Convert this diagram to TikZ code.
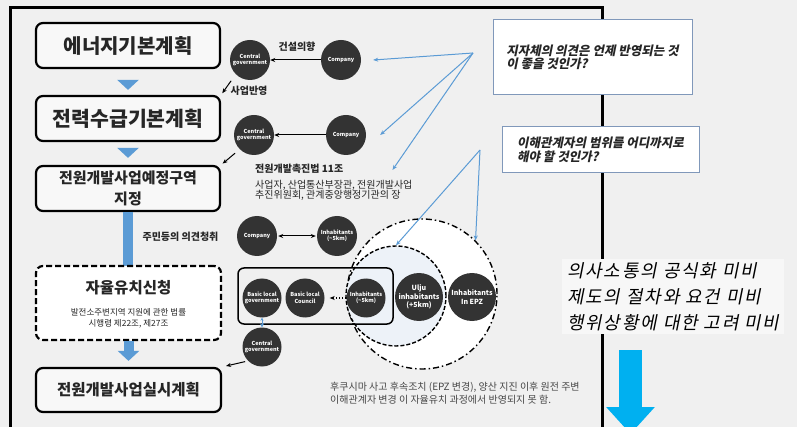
\documentclass[tikz,border=0pt]{standalone}
\usepackage{fontspec}
\setmainfont{Noto Sans CJK KR}
\newfontfamily\krit[FakeSlant=0.2]{Noto Sans CJK KR}
\newfontfamily\krbig[FakeSlant=0.2,LetterSpace=10]{Noto Sans CJK KR}
\usetikzlibrary{arrows.meta}
\definecolor{bgc}{HTML}{F0F0F0}
\definecolor{circ}{HTML}{333333}
\definecolor{lblue}{HTML}{5B9BD5}
\definecolor{barrow}{HTML}{5B9BD5}
\definecolor{cyanar}{HTML}{00B0F0}
\definecolor{boxedge}{HTML}{8098BA}
\definecolor{innerfill}{HTML}{EDF2F8}
\definecolor{txtc}{HTML}{262626}
\begin{document}
\begin{tikzpicture}[x=1pt,y=-1pt,
  mainbox/.style={draw=black, line width=2.2pt, rounded corners=7pt, fill=white!50!bgc,
    minimum width=184pt, minimum height=45pt, align=center, inner sep=0pt, text=txtc},
  dot/.style={circle, fill=circ, minimum size=40pt, inner sep=0pt, text=white, align=center,
    font=\fontsize{5.5}{6.5}\selectfont\bfseries},
  bigdot/.style={dot, minimum size=48pt, font=\fontsize{7}{8.5}\selectfont\bfseries},
  lbl/.style={inner sep=0pt, text=txtc, font=\fontsize{10}{12}\selectfont\bfseries},
  arr/.style={line width=1pt, -{Stealth[length=5pt,width=4pt]}},
  barr/.style={draw=lblue, line width=1pt, -{Stealth[length=5pt,width=4pt]}},
  blockarrow/.style={draw=barrow, line width=10pt, -{Triangle[width=21pt,length=10pt]}},
  qbox/.style={draw=boxedge, line width=1pt, fill=white, align=left, inner sep=0pt,
    font=\krit\bfseries\fontsize{12.5}{13.5}\selectfont, text=txtc}
]
\useasboundingbox (0,0) rectangle (797,427);
\clip (0,0) rectangle (797,427);
\fill[bgc] (0,0) rectangle (797,427);

% frame
\draw[line width=3pt] (10,440) -- (10,8) -- (602,8) -- (602,440);

% big circles (background)
\node[circle, draw, fill=white, line width=1.4pt, minimum size=150pt,
  dash pattern=on 6pt off 3pt on 1.5pt off 3pt] (outer) at (422,294) {};
\node[circle, draw, fill=innerfill, line width=1.4pt, minimum size=100pt,
  dash pattern=on 4pt off 2pt] (inner) at (396,296) {};

% left main boxes
\node[mainbox, font=\fontsize{20}{24}\selectfont\bfseries] (b1) at (128,45.5) {에너지기본계획};
\node[mainbox, font=\fontsize{20.5}{24}\selectfont\bfseries] (b2) at (128,118.5) {전력수급기본계획};
\node[mainbox, font=\fontsize{15}{21}\selectfont\bfseries] (b3) at (128,188.5) {전원개발사업예정구역\\지정};

\draw[barrow, line width=10pt] (b3.south) -- ([yshift=-3pt]b3.south |- 0,266);
\node[mainbox, dash pattern=on 6pt off 3pt, fill=white, minimum width=185pt, minimum height=74pt] (b4) at (128.5,303) {};
\node[lbl, font=\fontsize{15.5}{18}\selectfont\bfseries] (b4t) at (128.5,288) {자율유치신청};
\node[inner sep=0pt, align=center, text=txtc, font=\fontsize{8.5}{11}\selectfont] (b4s) at (128.5,318.5) {발전소주변지역 지원에 관한 법률\\시행령 제22조, 제27조};
\node[mainbox, minimum width=185pt, minimum height=44pt, font=\fontsize{15.5}{18}\selectfont\bfseries] (b5) at (128.5,390) {전원개발사업실시계획};

\draw[blockarrow, shorten <=11pt, shorten >=5pt] (b1.south) -- (b2.north);
\draw[blockarrow, shorten <=6pt, shorten >=7pt] (b2.south) -- (b3.north);
\draw[blockarrow, shorten >=6pt] (b4.south) -- (b5.north);

% row 1
\node[dot] (cg1) at (250,60) {Central\\government};
\node[dot] (co1) at (341,60) {Company};
\draw[arr] (co1) -- (cg1);
\node[lbl] (t1) at (297,47) {건설의향};
\draw[arr, shorten <=8pt, shorten >=2pt] (cg1.south west) -- (b2.north east);
\node[lbl] (t2) at (249,91) {사업반영};

% row 2
\node[dot] (cg2) at (254,135) {Central\\government};
\node[dot] (co2) at (346,135) {Company};
\draw[arr] (co2) -- (cg2);
\draw[arr, shorten <=6pt, shorten >=2pt] (cg2.south west) -- (b3.north east);
\node[lbl, anchor=west] (law) at (255,169) {전원개발촉진법 11조};
\node[anchor=north west, align=left, inner sep=0pt, text=txtc, font=\fontsize{10}{10.5}\selectfont] (lawd) at (255,180) {사업자, 산업통산부장관, 전원개발사업\\추진위원회, 관계중앙행정기관의 장};

% row 3
\node[lbl] (res) at (180.5,237) {주민등의 의견청취};
\node[dot] (co3) at (257,236) {Company};
\node[dot] (ih3) at (337,236) {Inhabitants\\(\textasciitilde5km)};
\draw[line width=1pt, {Stealth[length=5pt,width=4pt]}-{Stealth[length=5pt,width=4pt]}, shorten <=1pt, shorten >=1pt] (co3) -- (ih3);

% row 4
\node[draw, line width=1.5pt, rounded corners=6pt, minimum width=155pt, minimum height=56pt, inner sep=0pt] (grp) at (315.5,296) {};
\node[dot, minimum size=39pt] (blg) at (262,298) {Basic local\\government};
\node[dot, minimum size=39pt] (blc) at (305,298) {Basic local\\Council};
\node[dot, minimum size=39pt] (ih4) at (366,298) {Inhabitants\\(\textasciitilde5km)};
\node[bigdot] (ulju) at (419,297) {Ulju\\inhabitants\\(+5km)};
\node[bigdot] (epz) at (472,297) {Inhabitants\\In EPZ};
\draw[line width=1.2pt, dotted, -{Stealth[length=5pt,width=4pt]}, shorten >=5pt] (ih4) -- (blc);
\node[dot, minimum size=39pt] (cg4) at (262,347) {Central\\government};
\draw[barr, {Stealth[length=3pt,width=3pt]}-{Stealth[length=4pt,width=4pt]}] (blg.south) -- (cg4.north);
\draw[arr, shorten <=3pt, shorten >=4pt] (cg4.south west) -- (b5.north east);

% bottom text
\node[anchor=north west, align=left, inner sep=0pt, text=txtc!85!white, font=\fontsize{10}{13}\selectfont] (note) at (330,382) {후쿠시마 사고 후속조치 (EPZ 변경), 양산 지진 이후 원전 주변\\이해관계자 변경 이 자율유치 과정에서 반영되지 못 함.};

% right question boxes
\node[qbox, minimum width=199pt, minimum height=75pt] (qa) at (592.5,57.5) {지자체의 의견은 언제 반영되는 것\\이 좋을 것인가?};
\node[qbox, minimum width=197pt, minimum height=46pt] (qb) at (600.5,150) {이해관계자의 범위를 어디까지로\\해야 할 것인가?\hspace{8pt}};

\coordinate (pa) at (473,53);
\coordinate (pb) at (480,150);
\draw[barr] (pa) -- ([xshift=12pt]co1.east);
\draw[barr] (pa) -- ([xshift=14pt]co2.east);
\draw[barr] (pa) -- ([xshift=49pt,yshift=-1pt]law.east);
\draw[barr] (pb) -- (inner.north);
\draw[barr] (pb) -- (outer.north east);

% right statement
\node[anchor=west, align=left, fill=white!45!bgc, inner xsep=5pt, inner ysep=3pt,
  font=\krbig\fontsize{18}{26}\selectfont] (stmt) at (562,296.5) {의사소통의 공식화 미비\\제도의 절차와 요건 미비\\행위상황에 대한 고려 미비};

\coordinate (bigtop) at (630.5,350);
\coordinate (bigtip) at (630.5,434);
\draw[cyanar, line width=23pt, -{Triangle[width=47pt,length=27pt]}] (bigtop) -- (bigtip);
\end{tikzpicture}
\end{document}
